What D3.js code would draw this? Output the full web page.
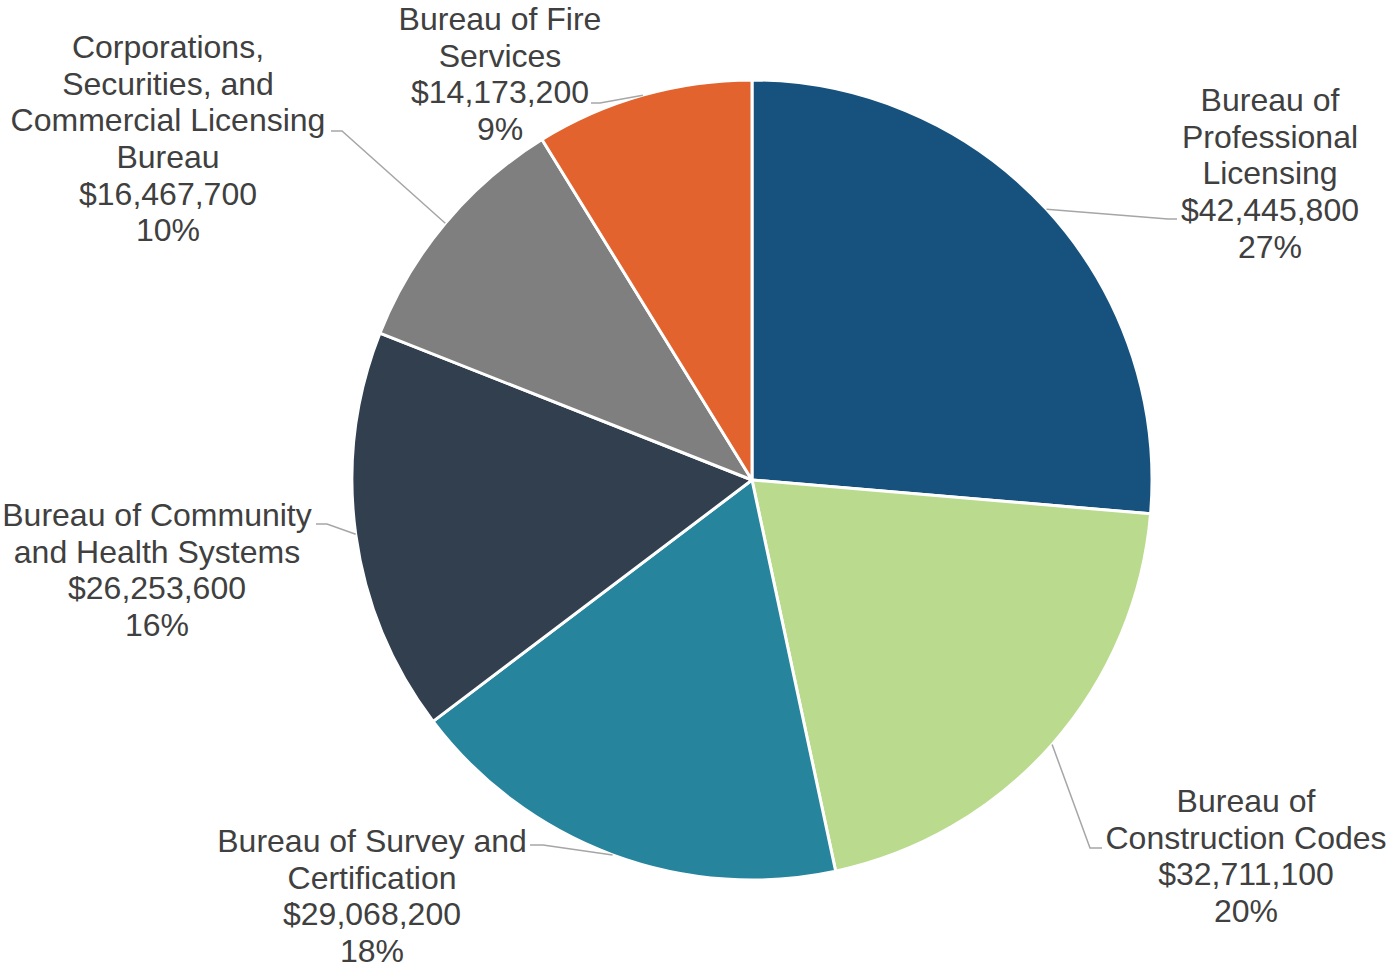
<!DOCTYPE html>
<html lang="en">
<head>
    <meta charset="UTF-8">
    <title>Funding by Bureau</title>
    <script src="https://d3js.org/d3.v7.min.js"></script>
    <style>
        body { margin: 0; background: #fff; }
        svg { display: block; font-family: "Liberation Sans", Arial, sans-serif; }
    </style>
</head>
<body>
    <svg width="1389" height="964"></svg>
    <script>
        const names = [
            ["Bureau of", "Professional", "Licensing"],
            ["Bureau of", "Construction Codes"],
            ["Bureau of Survey and", "Certification"],
            ["Bureau of Community", "and Health Systems"],
            ["Corporations,", "Securities, and", "Commercial Licensing", "Bureau"],
            ["Bureau of Fire", "Services"]
        ];
        const values = [42445800, 32711100, 29068200, 26253600, 16467700, 14173200];
        // percentages as printed on the chart (rounded to sum to 100)
        const percents = ["27%", "20%", "18%", "16%", "10%", "9%"];
        const colors = ["#17527e", "#badb8e", "#26849c", "#323f4f", "#7f7f7f", "#e2632d"];

        // label block centres (x, first line y) and leader line points
        const labelPos = [[1270, 100], [1246, 801], [372, 841], [157, 515], [168, 47], [500, 19]];
        const leaders = [
            [[1168, 219], [1177, 219]],
            [[1090, 848], [1102, 848]],
            [[543, 845], [530, 845]],
            [[327, 524], [316, 524]],
            [[342, 131], [331, 131]],
            [[600, 103], [591, 103]]
        ];

        const svg = d3.select("svg");
        const cx = 752, cy = 480, r = 400;
        const fmt = d3.format("$,");

        const pie = d3.pie().sort(null).value(d => d)(values);
        const arc = d3.arc().innerRadius(0).outerRadius(r);

        const g = svg.append("g").attr("transform", `translate(${cx},${cy})`);
        g.selectAll("path")
            .data(pie)
            .join("path")
            .attr("d", arc)
            .attr("fill", (d, i) => colors[i])
            .attr("stroke", "#fff")
            .attr("stroke-width", 3)
            .attr("stroke-linejoin", "round");

        // leader lines start on the arc at mid angle
        pie.forEach((d, i) => {
            const a = (d.startAngle + d.endAngle) / 2;
            const sx = cx + Math.sin(a) * r, sy = cy - Math.cos(a) * r;
            const pts = [[sx, sy]].concat(leaders[i]);
            svg.append("polyline")
                .attr("points", pts.map(p => p.join(",")).join(" "))
                .attr("fill", "none")
                .attr("stroke", "#a6a6a6")
                .attr("stroke-width", 1.5);
        });

        const lineH = 36.6;
        pie.forEach((d, i) => {
            const lines = names[i].concat([fmt(values[i]), percents[i]]);
            const t = svg.append("text")
                .attr("text-anchor", "middle")
                .attr("fill", "#404040")
                .attr("font-size", 32);
            lines.forEach((s, j) => {
                t.append("tspan")
                    .attr("x", labelPos[i][0])
                    .attr("y", labelPos[i][1] + j * lineH)
                    .attr("dy", "0.35em")
                    .text(s);
            });
        });
    </script>
</body>
</html>
